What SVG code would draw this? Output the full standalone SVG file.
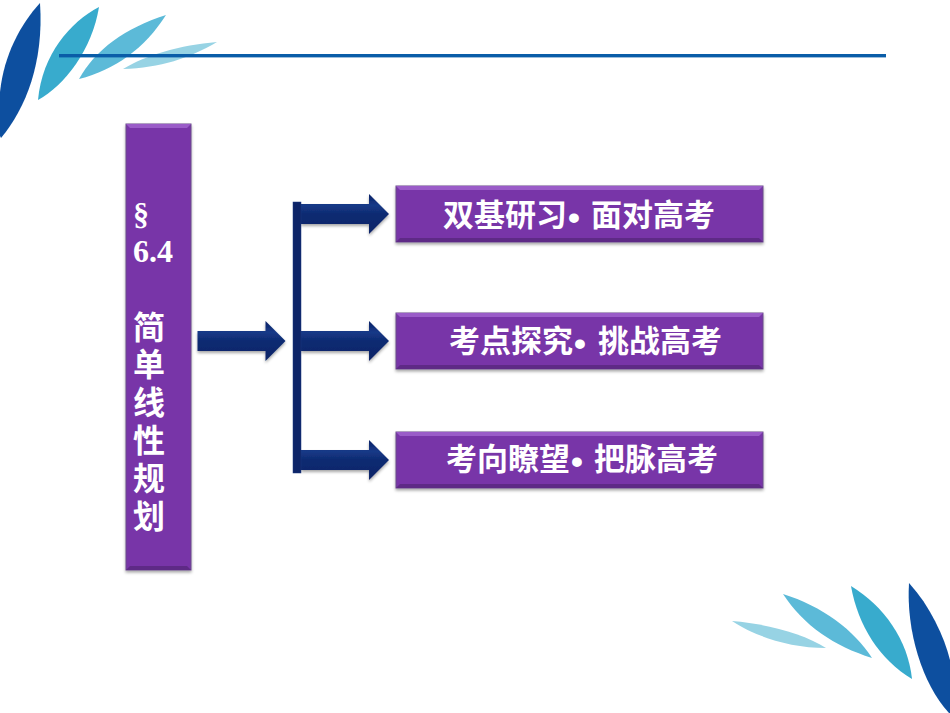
<svg xmlns="http://www.w3.org/2000/svg" width="950" height="713" viewBox="0 0 950 713">
<style>
.box{fill:#7834a8;stroke:#6a4a8a;stroke-width:1;filter:url(#sh)}
.bev{fill:#9a5cc8}
.bevd{fill:#5e2a86}
.t{fill:#fff;font-family:"Noto Sans CJK SC","Liberation Sans",sans-serif;font-weight:700;font-size:31px}
.l{fill:#fff;font-family:"Noto Sans CJK SC","Liberation Serif",serif;font-weight:700;font-size:32px;text-anchor:middle}
.s{fill:#fff;font-family:"Liberation Serif",serif;font-weight:700;font-size:32px}
.b{font-family:"Liberation Sans",sans-serif;font-size:34px}
.arr{fill:url(#ag);filter:url(#sh)}
.leaf{filter:url(#soft)}
</style>
<defs>
<filter id="sh" x="-10%" y="-10%" width="120%" height="125%"><feDropShadow dx="0" dy="2" stdDeviation="1.5" flood-color="#000" flood-opacity=".35"/></filter>
<filter id="soft"><feGaussianBlur stdDeviation=".5"/></filter>
<linearGradient id="ag" x1="0" y1="0" x2="0" y2="1"><stop offset="0" stop-color="#0a1f64"/><stop offset=".28" stop-color="#163a88"/><stop offset=".5" stop-color="#0f2b72"/><stop offset="1" stop-color="#0d2468"/></linearGradient>
<path id="a" d="M0-10H68V-20L88 0 68 20V10H0Z"/>
</defs>
<rect width="950" height="713" fill="#fff"/>
<g id="leaves-top" class="leaf">
<path d="M40 3C20 25 4 55 0 92V136L1 138C26 108 44 62 40 3Z" fill="#0d4f9f"/>
<path d="M99 7C70 22 42 55 38 100C65 85 92 50 99 7Z" fill="#37abcd"/>
<path d="M166 15C125 28 95 50 79 79C115 70 145 48 166 15Z" fill="#5bbad8"/>
<path d="M217 42C180 45 146 55 123 69C160 68 190 58 217 42Z" fill="#97d3e4"/>
</g>
<rect id="top-line" x="59" y="54" width="827" height="3.4" fill="#0a5da8"/>
<g id="leaves-bottom" class="leaf">
<path d="M732 621C768 624 804 634 826 648C790 648 754 636 732 621Z" fill="#97d3e4"/>
<path d="M783 594C822 606 854 630 872 658C834 646 804 626 783 594Z" fill="#5bbad8"/>
<path d="M851 586C884 606 908 640 912 679C880 660 858 626 851 586Z" fill="#37abcd"/>
<path d="M909 583C930 606 944 636 950 660V713H949C922 684 906 630 909 583Z" fill="#0d4f9f"/>
</g>
<g id="connectors">
<use href="#a" class="arr" transform="translate(197.500 341)"/>
<use href="#a" class="arr" transform="translate(301 214)"/>
<use href="#a" class="arr" transform="translate(301 341)"/>
<use href="#a" class="arr" transform="translate(301 460)"/>
<rect x="293" y="202" width="8" height="271" fill="#0d2468" stroke="#1c3a80" stroke-width=".5"/>
</g>
<g id="node-left">
<rect class="box" x="126" y="124" width="65" height="446"/>
<path class="bev" d="M126 124H191L187 128H130Z"/>
<path class="bevd" d="M126 570H191L187 566H130Z"/>
<text class="s" x="133" y="225">§<tspan x="133" y="262">6.4</tspan></text>
<text class="l"><tspan x="149" y="339">简</tspan><tspan x="149" y="376">单</tspan><tspan x="149" y="414">线</tspan><tspan x="149" y="452">性</tspan><tspan x="149" y="490">规</tspan><tspan x="149" y="528">划</tspan></text>
</g>
<g id="node-1">
<rect class="box" x="396" y="186" width="367" height="56"/>
<path class="bev" d="M396 186H763L759 190H400Z"/>
<path class="bevd" d="M396 242H763L759 238H400Z"/>
<text class="t" x="443" y="226">双基研习<tspan class="b" x="568" dy="3">•</tspan><tspan x="591" dy="-3">面对高考</tspan></text>
</g>
<g id="node-2">
<rect class="box" x="396" y="313" width="367" height="56"/>
<path class="bev" d="M396 313H763L759 317H400Z"/>
<path class="bevd" d="M396 369H763L759 365H400Z"/>
<text class="t" x="449" y="352">考点探究<tspan class="b" x="574" dy="3">•</tspan><tspan x="598" dy="-3">挑战高考</tspan></text>
</g>
<g id="node-3">
<rect class="box" x="396" y="432" width="367" height="56"/>
<path class="bev" d="M396 432H763L759 436H400Z"/>
<path class="bevd" d="M396 488H763L759 484H400Z"/>
<text class="t" x="446" y="470">考向瞭望<tspan class="b" x="571" dy="3">•</tspan><tspan x="594" dy="-3">把脉高考</tspan></text>
</g>
</svg>
